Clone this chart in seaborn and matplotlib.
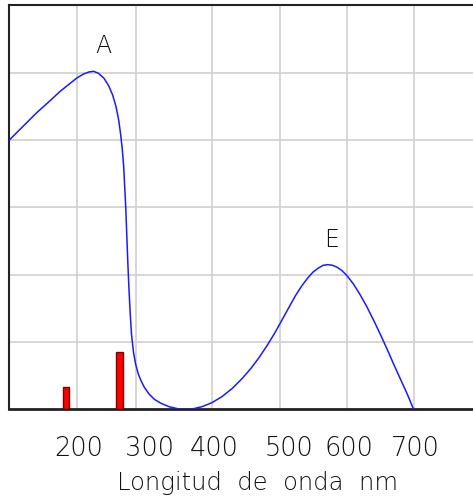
import pandas as pd
import matplotlib
matplotlib.use("Agg")
from matplotlib import pyplot as plt
import seaborn as sns

# absorption curve (nm, relative absorbance)
wavelength = [100, 120, 140, 160, 175, 190, 200, 210, 218, 225, 232, 240, 247, 253,
              258, 262, 265, 267.5, 269.5, 271, 272.5, 274, 275.5, 277, 279, 281,
              284, 287, 291, 295, 300, 307, 315, 325, 337, 350, 360, 372, 385, 400,
              415, 430, 445, 458, 470, 482, 493, 503, 514, 524, 533, 542, 550, 558,
              565, 572, 579, 586, 593, 600, 610, 620, 630, 640, 650, 660, 670, 680,
              690, 699]
absorbance = [4.00, 4.20, 4.40, 4.58, 4.72, 4.84, 4.92, 4.98, 5.01, 5.02, 4.99, 4.92,
              4.81, 4.67, 4.50, 4.30, 4.08, 3.85, 3.60, 3.30, 3.00, 2.60, 2.20, 1.85,
              1.45, 1.12, 0.85, 0.68, 0.53, 0.43, 0.33, 0.23, 0.15, 0.09, 0.04, 0.01,
              0.00, 0.01, 0.04, 0.10, 0.19, 0.31, 0.46, 0.61, 0.77, 0.95, 1.13, 1.31,
              1.51, 1.69, 1.83, 1.95, 2.04, 2.10, 2.14, 2.15, 2.14, 2.11, 2.06, 1.99,
              1.86, 1.70, 1.52, 1.32, 1.11, 0.89, 0.66, 0.44, 0.22, 0.00]

# red emission lines
line_nm = [184, 263]
line_height = [0.34, 0.85]

# band labels
band_names = ["A", "E"]
band_x = [240, 577]
band_y = [5.4, 2.51]

# x axis: grid positions and where the labels sit
grid_x = [200, 288, 401, 501, 601, 699]
tick_pos = [203, 308, 404, 514, 603, 701]
tick_labels = ["200", "300", "400", "500", "600", "700"]
grid_y = [1, 2, 3, 4, 5]

curve = pd.DataFrame({"nm": wavelength, "abs": absorbance})
lines = pd.DataFrame({"nm": line_nm, "h": line_height})

sns.set_style("white")
plt.rcParams["font.family"] = ["DejaVu Sans"]
plt.rcParams["font.weight"] = "light"

fig = plt.figure(figsize=(4.73, 4.99), dpi=100)
ax = fig.add_axes([0.0197, 0.1794, 0.9803, 0.81])

for gx in grid_x:
    ax.axvline(gx, color="#d0d0d0", lw=1.2, zorder=0)
for gy in grid_y:
    ax.axhline(gy, color="#d0d0d0", lw=1.2, zorder=0)

sns.barplot(data=lines, x="nm", y="h", native_scale=True, width=0.12,
            color="#ff0000", edgecolor="#7a0000", linewidth=1.0,
            saturation=1, ax=ax, zorder=3)
sns.lineplot(data=curve, x="nm", y="abs", color="#1a1aff", lw=1.1,
             ax=ax, zorder=4)

for name, bx, by in zip(band_names, band_x, band_y):
    ax.text(bx, by, name, ha="center", va="center", fontsize=17,
            color="#111111", fontweight="light")

ax.set_xlim(100, 787)
ax.set_ylim(0, 6)
ax.set_xticks(tick_pos)
ax.set_xticklabels(tick_labels, fontweight="light")
ax.set_yticks([])
ax.tick_params(axis="x", length=0, pad=19, labelsize=18.5, labelcolor="#111111")
ax.set_xlabel("Longitud  de  onda  nm", fontsize=17.5, color="#111111",
              labelpad=7, fontweight="light", x=0.536)
ax.set_ylabel("")

for side in ["left", "top", "bottom"]:
    ax.spines[side].set_color("#222222")
    ax.spines[side].set_linewidth(1.5)
ax.spines["bottom"].set_linewidth(2)
ax.spines["right"].set_visible(False)

plt.savefig("out.png", dpi=100)
plt.close()
